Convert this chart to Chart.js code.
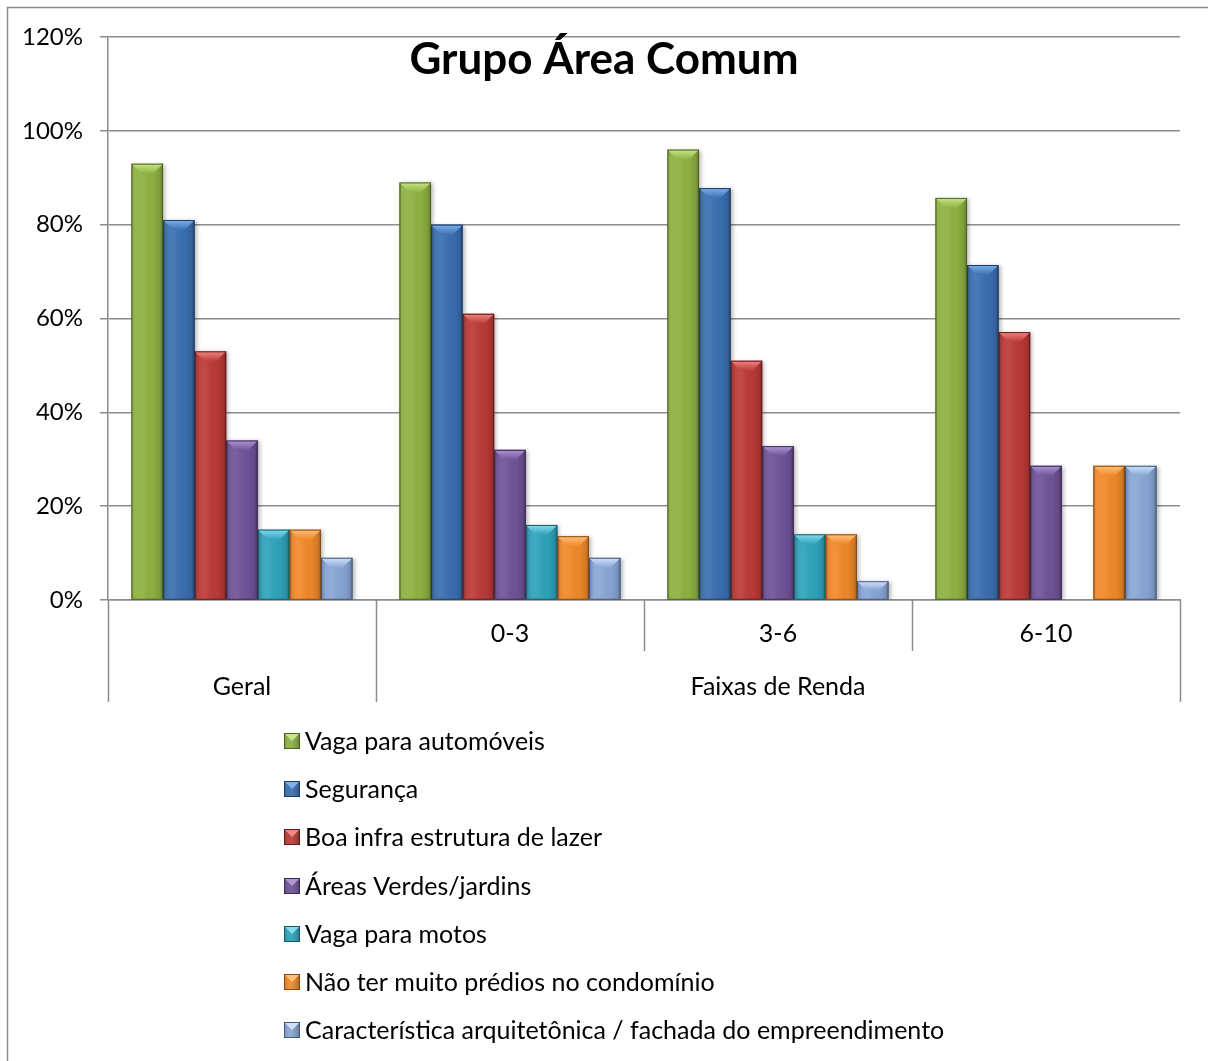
<!DOCTYPE html>
<html lang="pt-BR">
<head>
<meta charset="utf-8">
<title>Grupo Área Comum</title>
<script src="https://cdn.jsdelivr.net/npm/chart.js@4.4.1/dist/chart.umd.min.js"></script>
<style>
  html, body { margin: 0; padding: 0; background: #ffffff; }
  #wrap { width: 1208px; height: 1061px; position: relative; }
</style>
</head>
<body>
<div id="wrap"><canvas id="grafico" width="1208" height="1061"></canvas></div>
<script>
// Categorias do eixo X (linha de cima) e agrupamento (linha de baixo)
const faixas = ['', '0-3', '3-6', '6-10'];
const grupos = ['Geral', 'Faixas de Renda'];
const grupoSpan = [1, 3];

// Nomes das séries
const seriesNomes = [
  'Vaga para automóveis',
  'Segurança',
  'Boa infra estrutura de lazer',
  'Áreas Verdes/jardins',
  'Vaga para motos',
  'Não ter muito prédios no condomínio',
  'Característica arquitetônica / fachada do empreendimento'
];

// Percentuais por categoria: Geral, 0-3, 3-6, 6-10
const vagaAutomoveis = [93, 89, 96, 85.7];
const seguranca      = [81, 80, 87.8, 71.4];
const infraLazer     = [53, 61, 51, 57.1];
const areasVerdes    = [34, 32, 32.8, 28.6];
const vagaMotos      = [15, 16, 14, 0];
const poucosPredios  = [15, 13.6, 14, 28.6];
const fachada        = [9, 9, 4, 28.6];

// Escala do eixo Y
const yMin = 0, yMax = 120, yPasso = 20;

const seriesValores = [vagaAutomoveis, seguranca, infraLazer, areasVerdes, vagaMotos, poucosPredios, fachada];

const cores = ['#8eb142', '#3a6fb1', '#bb3a37', '#6f5398', '#2fa2bb', '#f0892a', '#88a6d5'];
const coresClaras = ['#c9e58a', '#7fb2ec', '#f08783', '#b196d6', '#86dcef', '#ffc07a', '#d0e2fb'];
const coresEscuras = ['#4c6420', '#1c3b63', '#5e1b1a', '#3a2955', '#155a69', '#8a4a10', '#46597a'];

const FONTE = 'Lato, "Open Sans", sans-serif';

// Efeito de chanfro (bisel) nas barras
const biselBarras = {
  id: 'biselBarras',
  beforeDatasetsDraw(chart) {
    const ctx = chart.ctx;
    ctx.save();
    ctx.shadowColor = 'rgba(0,0,0,0.28)';
    ctx.shadowBlur = 4;
    ctx.shadowOffsetX = 2;
    ctx.shadowOffsetY = 1;
  },
  afterDatasetsDraw(chart) {
    const ctx = chart.ctx;
    ctx.restore();
    chart.data.datasets.forEach((ds, i) => {
      const meta = chart.getDatasetMeta(i);
      if (meta.hidden) return;
      meta.data.forEach(bar => {
        const p = bar.getProps(['x', 'y', 'base', 'width'], true);
        const h = p.base - p.y;
        if (h < 1) return;
        const l = p.x - p.width / 2, r = p.x + p.width / 2, w = p.width;
        ctx.save();
        const g = ctx.createLinearGradient(l, 0, r, 0);
        g.addColorStop(0, 'rgba(0,0,0,0.22)');
        g.addColorStop(0.1, 'rgba(255,255,255,0.06)');
        g.addColorStop(0.35, 'rgba(255,255,255,0.08)');
        g.addColorStop(0.7, 'rgba(0,0,0,0.02)');
        g.addColorStop(0.9, 'rgba(0,0,0,0.12)');
        g.addColorStop(1, 'rgba(0,0,0,0.32)');
        ctx.fillStyle = g;
        ctx.fillRect(l, p.y, w, h);
        const b = Math.min(10, h / 2, w / 3);
        const gt = ctx.createLinearGradient(0, p.y, 0, p.y + b);
        gt.addColorStop(0, coresClaras[i]);
        gt.addColorStop(1, cores[i]);
        ctx.beginPath();
        ctx.moveTo(l, p.y);
        ctx.lineTo(r, p.y);
        ctx.lineTo(r - b, p.y + b);
        ctx.lineTo(l + b, p.y + b);
        ctx.closePath();
        ctx.fillStyle = gt;
        ctx.fill();
        ctx.strokeStyle = coresEscuras[i];
        ctx.lineWidth = 1;
        ctx.strokeRect(l + 0.5, p.y + 0.5, w - 1, h - 0.5);
        ctx.restore();
      });
    });
  }
};

// Título, moldura, eixo de dois níveis e legenda vertical
const decoracao = {
  id: 'decoracao',
  afterDraw(chart) {
    const ctx = chart.ctx;
    const a = chart.chartArea;
    const x = chart.scales.x;
    ctx.save();

    // Moldura externa
    ctx.strokeStyle = '#8c8c8c';
    ctx.lineWidth = 1.5;
    ctx.beginPath();
    ctx.moveTo(7.5, chart.height + 5);
    ctx.lineTo(7.5, 7.5);
    ctx.lineTo(chart.width + 5, 7.5);
    ctx.stroke();

    // Título sobre a área do gráfico
    ctx.fillStyle = '#000';
    ctx.font = 'bold 44px ' + FONTE;
    ctx.textAlign = 'center';
    ctx.textBaseline = 'middle';
    ctx.fillText('Grupo Área Comum', chart.width / 2, 60);

    // Divisórias do eixo de categorias
    const n = faixas.length;
    const passo = x.getPixelForValue(1) - x.getPixelForValue(0);
    const bordas = [];
    for (let i = 0; i <= n; i++) bordas.push(x.getPixelForValue(0) - passo / 2 + i * passo);
    const limitesGrupo = [0];
    grupoSpan.forEach(s => limitesGrupo.push(limitesGrupo[limitesGrupo.length - 1] + s));
    ctx.strokeStyle = '#8c8c8c';
    ctx.lineWidth = 1.5;
    bordas.forEach((bx, i) => {
      const longa = limitesGrupo.includes(i);
      ctx.beginPath();
      ctx.moveTo(Math.round(bx) + 0.5, a.bottom);
      ctx.lineTo(Math.round(bx) + 0.5, a.bottom + (longa ? 102 : 51));
      ctx.stroke();
    });

    // Rótulos do segundo nível
    ctx.font = '25px ' + FONTE;
    ctx.fillStyle = '#000';
    grupos.forEach((g, k) => {
      const cx = (bordas[limitesGrupo[k]] + bordas[limitesGrupo[k + 1]]) / 2;
      ctx.fillText(g, cx, a.bottom + 87);
    });

    // Legenda vertical
    const lx = 284, ly0 = 741, ldy = 48.2, ms = 16;
    ctx.textAlign = 'left';
    chart.data.datasets.forEach((ds, i) => {
      const cy = ly0 + i * ldy;
      const top = Math.round(cy - ms / 2);
      ctx.fillStyle = cores[i];
      ctx.fillRect(lx, top, ms, ms);
      const gm = ctx.createLinearGradient(lx, 0, lx + ms, 0);
      gm.addColorStop(0, 'rgba(0,0,0,0.2)');
      gm.addColorStop(0.3, 'rgba(255,255,255,0.05)');
      gm.addColorStop(1, 'rgba(0,0,0,0.3)');
      ctx.fillStyle = gm;
      ctx.fillRect(lx, top, ms, ms);
      ctx.beginPath();
      ctx.moveTo(lx, top);
      ctx.lineTo(lx + ms, top);
      ctx.lineTo(lx + ms / 2, top + ms / 2);
      ctx.closePath();
      ctx.fillStyle = coresClaras[i];
      ctx.fill();
      ctx.strokeStyle = coresEscuras[i];
      ctx.lineWidth = 1;
      ctx.strokeRect(lx + 0.5, top + 0.5, ms - 1, ms - 1);
      ctx.fillStyle = '#000';
      ctx.fillText(ds.label, lx + 21, cy + 1);
    });
    ctx.restore();
  }
};

const datasets = seriesNomes.map((nome, i) => ({
  label: nome,
  data: seriesValores[i],
  backgroundColor: cores[i],
  borderWidth: 0,
  categoryPercentage: 0.825,
  barPercentage: 1.0
}));

new Chart(document.getElementById('grafico'), {
  type: 'bar',
  data: { labels: faixas, datasets },
  options: {
    responsive: false,
    animation: false,
    events: [],
    layout: { padding: { top: 37, left: 7, right: 28, bottom: 0 } },
    plugins: {
      legend: { display: false },
      title: { display: false },
      tooltip: { enabled: false }
    },
    scales: {
      x: {
        grid: { display: false, drawTicks: false },
        border: { display: true, color: '#8c8c8c', width: 1.5 },
        ticks: { color: '#000', font: { family: FONTE, size: 25 }, padding: 19, maxRotation: 0, autoSkip: false },
        afterFit(s) { s.height = 461; }
      },
      y: {
        min: yMin,
        max: yMax,
        ticks: {
          stepSize: yPasso,
          color: '#000',
          font: { family: FONTE, size: 24 },
          padding: 17,
          callback: v => v + '%'
        },
        grid: { color: '#8c8c8c', lineWidth: 1.5, tickLength: 8 },
        border: { display: true, color: '#8c8c8c', width: 1.5 },
        afterFit(s) { s.width = 101; }
      }
    }
  },
  plugins: [biselBarras, decoracao]
});
</script>
</body>
</html>
